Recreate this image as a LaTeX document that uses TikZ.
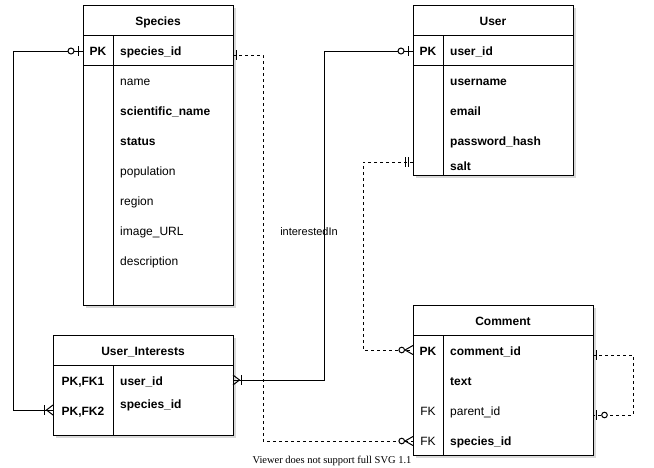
\documentclass[tikz,border=0pt]{standalone}
\usepackage{fontspec}
\setmainfont{Liberation Sans}
\newfontfamily\viewerfont{Liberation Serif}
\usetikzlibrary{shadows,calc}

\tikzset{
  tbl/.style={draw, line width=1pt, fill=white, inner sep=0pt, outer sep=0pt,
    drop shadow={shadow xshift=2.5pt, shadow yshift=-2.5pt, fill=black, opacity=0.15}},
  hdr/.style={draw, line width=1pt, inner sep=0pt, outer sep=0pt,
    font=\bfseries\fontsize{12}{14}\selectfont, text height=10pt, text depth=0pt},
  rowline/.style={draw, line width=1pt, inner sep=0pt, outer sep=0pt},
  colline/.style={line width=1pt},
  fb/.style={inner sep=0pt, anchor=west, text height=10pt, text depth=0pt,
    font=\bfseries\fontsize{12}{14}\selectfont},
  fn/.style={inner sep=0pt, anchor=west, text height=10pt, text depth=0pt,
    font=\fontsize{12}{14}\selectfont},
  kb/.style={inner sep=0pt, text height=10pt, text depth=0pt,
    font=\bfseries\fontsize{12}{14}\selectfont},
  kn/.style={inner sep=0pt, text height=10pt, text depth=0pt,
    font=\fontsize{12}{14}\selectfont},
  rel/.style={line width=1pt},
  reld/.style={line width=1pt, dash pattern=on 3pt off 3pt},
  mk/.style={line width=1pt},
  lbl/.style={inner sep=0pt, font=\fontsize{11}{13}\selectfont},
  % markers: table edge at origin, line leaves towards -x
  pics/zeroone/.style={code={
    \draw[mk] (-5,-5) -- (-5,5);
    \draw[mk, fill=white] (-12,0) circle[radius=3pt];}},
  pics/zeroonenear/.style={code={
    \draw[mk] (-3,-5) -- (-3,5);
    \draw[mk, fill=white] (-11.5,0) circle[radius=2.8pt];}},
  pics/onemany/.style={code={
    \draw[mk] (0,-5) -- (-6.5,0) -- (0,5);
    \draw[mk] (-8.5,-5) -- (-8.5,5);}},
  pics/zeromany/.style={code={
    \draw[mk] (0,-4.5) -- (-8,0) -- (0,4.5);
    \draw[mk, fill=white] (-11.3,0) circle[radius=2.8pt];}},
  pics/justone/.style={code={
    \draw[mk] (-3.5,-5) -- (-3.5,5);}},
  pics/mandone/.style={code={
    \draw[mk] (-4.5,-5) -- (-4.5,5);
    \draw[mk] (-7.5,-5) -- (-7.5,5);}},
}

\begin{document}
\begin{tikzpicture}[x=1pt, y=-1pt]
\useasboundingbox (0,0) rectangle (654,467);

% ---------------- Species ----------------
\node[tbl, minimum width=150, minimum height=300] (sp) at (158,155) {};
\node[hdr, minimum width=150, minimum height=30, anchor=north] (spt) at (sp.north) {Species};
\node[rowline, minimum width=150, minimum height=30, anchor=north] (sprow) at (spt.south) {};
\draw[colline] ([xshift=30pt]spt.south west) -- ([xshift=30pt]sp.south west);
\node[kb] (spk) at (98,50) {PK};
\node[fb] (spid) at (120,50) {species\_id};
\node[fn] (spname) at (120,80) {name};
\node[fb] (spsci) at (120,110) {scientific\_name};
\node[fb] (spstat) at (120,140) {status};
\node[fn] (sppop) at (120,170) {population};
\node[fn] (spreg) at (120,200) {region};
\node[fn] (spimg) at (120,230) {image\_URL};
\node[fn] (spdesc) at (120,260) {description};

% ---------------- User ----------------
\node[tbl, minimum width=160, minimum height=170] (us) at (493,90) {};
\node[hdr, minimum width=160, minimum height=30, anchor=north] (ust) at (us.north) {User};
\node[rowline, minimum width=160, minimum height=30, anchor=north] (usrow) at (ust.south) {};
\draw[colline] ([xshift=30pt]ust.south west) -- ([xshift=30pt]us.south west);
\node[kb] (usk) at (428,50) {PK};
\node[fb] (usid) at (450,50) {user\_id};
\node[fb] (usname) at (450,80) {username};
\node[fb] (usmail) at (450,110) {email};
\node[fb] (uspw) at (450,140) {password\_hash};
\node[fb] (ussalt) at (450,165) {salt};

% ---------------- User_Interests ----------------
\node[tbl, minimum width=180, minimum height=100] (ui) at (143,385) {};
\node[hdr, minimum width=180, minimum height=30, anchor=north] (uit) at (ui.north) {User\_Interests};
\draw[colline] ([xshift=60pt]uit.south west) -- ([xshift=60pt]ui.south west);
\node[kb] (uik1) at (83,380) {PK,FK1};
\node[kb] (uik2) at (83,410) {PK,FK2};
\node[fb] (uiuid) at (120,380) {user\_id};
\node[fb] (uisid) at (120,403) {species\_id};

% ---------------- Comment ----------------
\node[tbl, minimum width=180, minimum height=150] (cm) at (503,380) {};
\node[hdr, minimum width=180, minimum height=30, anchor=north] (cmt) at (cm.north) {Comment};
\draw[colline] ([xshift=30pt]cmt.south west) -- ([xshift=30pt]cm.south west);
\node[kb] (cmk) at (428,350) {PK};
\node[fb] (cmid) at (450,350) {comment\_id};
\node[fb] (cmtext) at (450,380) {text};
\node[kn] (cmfk1) at (428,410) {FK};
\node[fn] (cmpar) at (450,410) {parent\_id};
\node[kn] (cmfk2) at (428,440) {FK};
\node[fb] (cmsid) at (450,440) {species\_id};

% ---------------- lanes and ports ----------------
\coordinate (laneA) at (13,0);
\coordinate (laneB) at (324,0);
\coordinate (laneC) at (263,0);
\coordinate (laneD) at (363,0);
\coordinate (laneE) at (633,0);

\coordinate (pA1) at ($(sp.west |- spk)+(0,1)$);
\coordinate (pB1) at (ui.west |- uik2);
\coordinate (pA2) at ($(us.west |- usk)+(0,1)$);
\coordinate (pB2) at (ui.east |- uiuid);
\coordinate (pA3) at ($(sp.east |- spid)+(0,5)$);
\coordinate (pB3) at ($(cm.west |- cmsid)+(0,1)$);
\coordinate (pA4) at ($(us.west |- ussalt)+(0,-3)$);
\coordinate (pB4) at (cm.west |- cmid);
\coordinate (pA5) at ($(cm.east |- cmid)+(0,5)$);
\coordinate (pB5) at ($(cm.east |- cmpar)+(0,5)$);

% ---------------- connectors ----------------
\draw[rel] (pA1) -- (pA1 -| laneA) |- (pB1);
\draw[rel] (pA2) -- (pA2 -| laneB) |- (pB2);
\node[lbl] (lblint) at (309,232) {interestedIn};
\draw[reld] (pA3) -- (pA3 -| laneC) |- (pB3);
\draw[reld] (pA4) -- (pA4 -| laneD) |- (pB4);
\draw[reld] (pA5) -- (pA5 -| laneE) |- (pB5);

% ---------------- end markers ----------------
\pic at (pA1) {zeroone};
\pic at (pB1) {onemany};
\pic at (pA2) {zeroone};
\pic[xscale=-1] at (pB2) {onemany};
\pic[xscale=-1] at (pA3) {justone};
\pic at (pB3) {zeromany};
\pic at (pA4) {mandone};
\pic at (pB4) {zeromany};
\pic[xscale=-1] at (pA5) {justone};
\pic[xscale=-1] at (pB5) {zeroonenear};

% ---------------- footer ----------------
\node[inner sep=0pt, font=\viewerfont\fontsize{10.5}{12}\selectfont] (footer) at (332,461) {Viewer does not support full SVG 1.1};
\end{tikzpicture}
\end{document}
